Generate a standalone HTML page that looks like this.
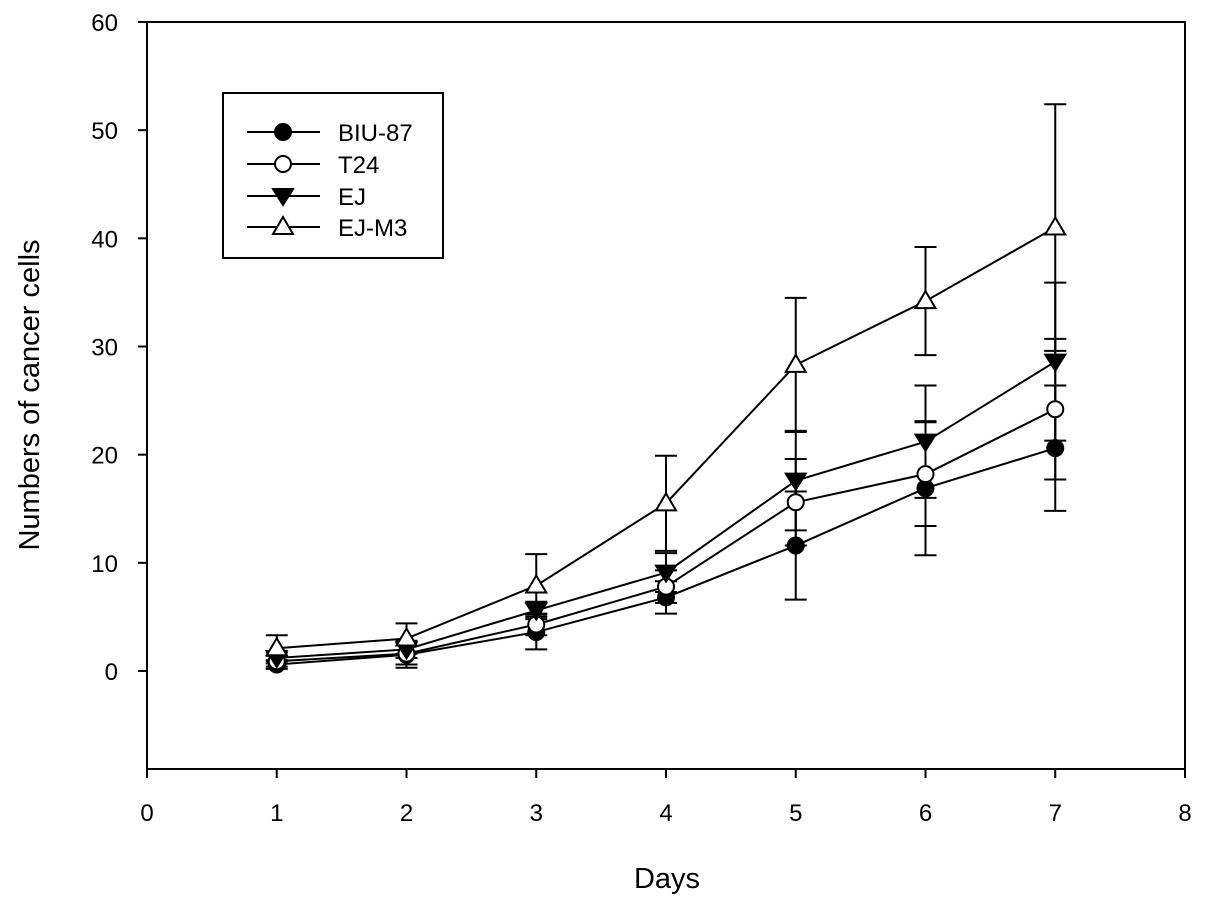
<!DOCTYPE html>
<html><head><meta charset="utf-8"><style>
body{margin:0;background:#fff}
svg text{font-family:"Liberation Sans",Arial,sans-serif;fill:#000}
</style></head><body>
<svg id="chart" width="1205" height="907" xmlns="http://www.w3.org/2000/svg">
<g id="axes"></g><g id="series"></g><g id="legend"></g>
</svg>
<script>
const days=[1,2,3,4,5,6,7];
const biuMean=[0.6,1.5,3.6,6.8,11.6,16.9,20.6];
const biuErr=[0.4,1.2,1.6,1.5,5.0,6.2,5.8];
const t24Mean=[0.9,1.6,4.3,7.8,15.6,18.2,24.2];
const t24Err=[0.5,1.0,1.0,1.5,4.0,4.8,6.5];
const ejMean=[1.2,2.0,5.6,9.1,17.6,21.2,28.6];
const ejErr=[0.5,0.8,0.8,1.8,4.6,5.2,7.3];
const ejm3Mean=[2.1,3.0,7.9,15.5,28.3,34.2,41.0];
const ejm3Err=[1.2,1.4,2.9,4.4,6.2,5.0,11.4];
const xTicks=[0,1,2,3,4,5,6,7,8];
const yTicks=[0,10,20,30,40,50,60];
const NS="http://www.w3.org/2000/svg";
const L=147,R=1185,T=22,B=769,yMin=-9.06,yMax=60;
const sx=v=>L+(v-0)/8*(R-L);
const sy=v=>B-(v-yMin)/(yMax-yMin)*(B-T);
function mk(tag,at,parent){const e=document.createElementNS(NS,tag);for(const k in at)e.setAttribute(k,at[k]);parent.appendChild(e);return e;}
const axes=document.getElementById('axes');
const frame=mk('rect',{x:L,y:T,width:R-L,height:B-T,fill:'none',stroke:'#000','stroke-width':2},axes);


xTicks.forEach(t=>{
 const ln=mk('line',{x1:sx(t),x2:sx(t),y1:B,y2:B+9,stroke:'#000','stroke-width':2},axes);
 
 
 const tx=mk('text',{x:sx(t),y:B+52,'text-anchor':'middle','font-size':24},axes);tx.textContent=t;
 
 
});
yTicks.forEach(t=>{
 const ln=mk('line',{x1:L-9,x2:L,y1:sy(t),y2:sy(t),stroke:'#000','stroke-width':2},axes);
 
 
 const tx=mk('text',{x:L-29,y:sy(t)+9,'text-anchor':'end','font-size':24},axes);tx.textContent=t;
 
 
});
const xt=mk('text',{x:667,y:888,'text-anchor':'middle','font-size':29},axes);xt.textContent='Days';


const yt=mk('text',{x:0,y:0,'text-anchor':'middle','font-size':29,transform:'translate(39,395) rotate(-90)'},axes);yt.textContent='Numbers of cancer cells';



function marker(type,x,y,g){
 if(type==='circle-filled')return mk('circle',{cx:x,cy:y,r:8,fill:'#000',stroke:'#000','stroke-width':2},g);
 if(type==='circle-open')return mk('circle',{cx:x,cy:y,r:8,fill:'#fff',stroke:'#000','stroke-width':2},g);
 if(type==='tri-down')return mk('polygon',{points:`${x-10},${y-7} ${x+10},${y-7} ${x},${y+9}`,fill:'#000',stroke:'#000','stroke-width':2},g);
 return mk('polygon',{points:`${x-10},${y+7} ${x+10},${y+7} ${x},${y-10}`,fill:'#fff',stroke:'#000','stroke-width':2},g);
}
const series=[
 {name:'BIU-87',m:biuMean,e:biuErr,type:'circle-filled',id:'biu-87'},
 {name:'T24',m:t24Mean,e:t24Err,type:'circle-open',id:'t24'},
 {name:'EJ',m:ejMean,e:ejErr,type:'tri-down',id:'ej'},
 {name:'EJ-M3',m:ejm3Mean,e:ejm3Err,type:'tri-up',id:'ej-m3'}];
const sg=document.getElementById('series');
series.forEach(s=>{
 const g=mk('g',{},sg);
 
 
 days.forEach((d,i)=>{
  const x=sx(d);
  const eb=mk('path',{d:`M${x},${sy(s.m[i]-s.e[i])}V${sy(s.m[i]+s.e[i])}M${x-11},${sy(s.m[i]+s.e[i])}h22M${x-11},${sy(s.m[i]-s.e[i])}h22`,stroke:'#000','stroke-width':2,fill:'none'},g);
  
  
 });
 const pl=mk('polyline',{points:days.map((d,i)=>sx(d)+','+sy(s.m[i])).join(' '),fill:'none',stroke:'#000','stroke-width':2},g);
 
 
});
series.forEach(s=>{
 days.forEach((d,i)=>{
  const p=marker(s.type,sx(d),sy(s.m[i]),sg);
  
  
 });
});
const lg=document.getElementById('legend');
const box=mk('rect',{x:223,y:93,width:220,height:165,fill:'#fff',stroke:'#000','stroke-width':2},lg);


const ly=[132,164,196,227];
series.forEach((s,i)=>{
 const g=mk('g',{},lg);
 
 
 mk('line',{x1:247,x2:320,y1:ly[i],y2:ly[i],stroke:'#000','stroke-width':2},g);
 marker(s.type,283,ly[i],g);
 const t=mk('text',{x:338,y:ly[i]+9,'font-size':24},g);t.textContent=s.name;
});
</script>
</body></html>
